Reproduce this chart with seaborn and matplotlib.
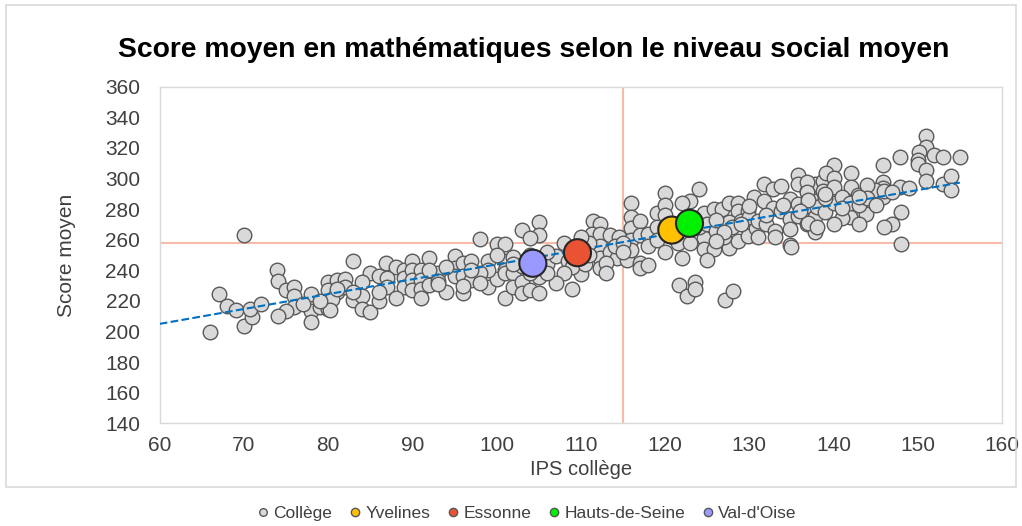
import pandas as pd
import seaborn as sns
import matplotlib.pyplot as plt
from matplotlib.lines import Line2D
from matplotlib.patches import Rectangle

# Collèges (IPS, score moyen)
college_x = [70, 67, 66, 68, 69, 70, 71, 70.7, 72, 73.9, 74, 75, 76, 76, 76, 75, 74, 78, 78, 78, 79, 80, 80, 80, 81, 80.5,
             82.9, 86.9, 88, 85, 86, 84, 81, 82, 82, 81, 80.2, 83, 84, 84, 85, 86, 87, 87, 89, 89, 89, 90, 90, 90, 90,
             91, 91, 91, 92, 92, 94, 95, 95, 95, 96, 96, 96, 97, 97, 98, 99, 99, 100, 100, 101, 101, 101,
             101, 101, 103, 105, 105, 104, 102, 102, 102, 103, 103, 104, 105, 105, 106, 107, 109, 110, 111.5, 112.3,
             111.3, 112.3, 113.5, 112.3, 112.3, 112.3, 113.5, 114.3, 114.5, 115.5, 116, 116, 116, 116, 116, 117, 117,
             117, 117, 118, 118, 118, 119, 119, 119, 120, 120, 120,
             120, 120, 124, 123, 122, 124.6, 125.8, 126.8, 124.6, 124.6, 125.8, 127.6, 128.6, 128.6, 127.6, 127.6,
             128.6, 129.8, 129.8, 129.8, 130.8, 130.6, 131.7, 131.7, 132.8, 132.8, 133.8, 133.8, 134.8, 134.8, 134.8,
             134.8, 135.8, 135.8, 135.8, 135.8, 136.8, 136.8, 136.8, 137.8, 137.8, 137.8, 137.8, 138.8, 138.8, 121.6,
             122.6, 123.6, 123.6, 127.1, 128.1,
             151, 151, 150.1, 151.9, 153, 155, 147.9, 150, 150, 151, 151, 145.9, 140.1, 139.1, 140.1, 140.1, 142.1,
             142.1, 136.9, 136.9, 145.9, 145.9, 145.9, 147.9, 149, 144.9, 142.9, 144.1, 142.9, 142, 141, 143.9, 138,
             137, 137, 153, 154, 154, 148, 147, 146, 148, 135,
             108, 108.5, 109, 110.5, 111, 110, 111, 113, 113, 114, 115, 115, 108, 107,
             103, 104, 104, 106, 106, 102, 100, 99, 98, 97, 93, 93, 94, 92,
             121, 121.5, 122, 123, 124, 125, 126, 127, 128, 129, 130, 131, 132, 133, 133, 131, 126, 125,
             138, 139, 140, 141, 142, 143, 144, 144, 146, 147, 140, 139, 143,
             88, 91, 93, 86, 83, 79, 77, 96, 98, 132, 134, 136, 130, 129, 141, 143, 145, 139, 127, 126]
college_y = [263, 224.5, 199.5, 216.7, 214, 203.6, 209.7, 215, 218, 240.2, 233, 227, 229.3, 223, 215.8, 213.6, 210,
             224.5, 213.6, 206.4, 216.2, 232.5, 227, 214.5, 226, 221,
             246.3, 244.6, 242.4, 238.4, 236.3, 232.5, 233.6, 234, 229, 227.5, 214, 220.6, 223.5, 214.5, 213, 220,
             235, 229, 240, 235, 229, 246, 240.5, 233.5, 227, 240, 233.5, 228, 248, 230.5, 226, 249.4, 241.5, 236.5,
             244.6, 236.5, 225, 246.3, 233.5, 260.3, 246.3, 229, 257, 234.6, 257, 246.3, 240.5,
             238.5, 222, 266.4, 271.8, 263, 261, 249, 238, 229, 232.5, 225, 227, 225, 235.5, 244, 249.6, 228, 237.5,
             272.5, 270, 264, 264, 263, 255.6, 248, 241.5, 252, 248, 262, 246.5, 283.8, 275, 267.4, 260, 253.4, 272,
             263, 244.6, 241.3, 264, 255.6, 243.5, 277.3, 268.6, 260, 290.4, 283, 252.2,
             276, 268.6, 293, 285.2, 284, 277.6, 279.8, 279.8, 261.2, 253.6, 253.6, 284, 284, 278.5, 271.5, 254.5,
             259.4, 278.5, 267.6, 262.2, 267.6, 287.7, 296.4, 285.5, 293, 281, 295, 278.5, 286.6, 273.5, 267, 256.6,
             302, 296.4, 283.3, 275.7, 292, 282, 270, 296.4, 285.5, 274.6, 264.8, 298.5, 292, 230.3, 223.4, 232.2,
             228, 220.3, 226.8,
             327.8, 320.9, 317, 315.5, 314, 314, 313.8, 312, 309.4, 305.5, 298.5, 308.8, 308.8, 303.3, 300, 294.6,
             303.3, 294.3, 297.8, 291.3, 297.8, 293.6, 288.1, 294.6, 294, 292.4, 289.2, 282.7, 279.4, 275, 274, 276.8,
             281.6, 286, 270.8, 296.4, 301.6, 292.4, 278, 270.5, 268, 257.1, 255,
             258, 246, 242, 244, 258, 262, 250, 245, 238, 256, 258, 252, 238, 232,
             243, 238, 250, 238, 252, 244, 250, 240, 238, 240, 238, 233, 242, 240,
             262, 258, 248, 258, 268, 270, 266, 262, 268, 272, 275, 272, 270, 266, 262, 262, 273, 247,
             268, 278, 284, 288, 284, 283, 296, 287, 292, 291, 270, 287, 270,
             222, 222, 231, 226, 226, 220, 218, 230, 232, 276, 283, 279, 282, 270, 281, 288, 283, 290, 265, 259]

# Departments
dep_names = ["Yvelines", "Essonne", "Hauts-de-Seine", "Val-d'Oise"]
dep_x = [120.8, 109.6, 122.9, 104.3]
dep_y = [266.3, 251.5, 270.7, 244.6]
dep_colors = ["#FFC000", "#EA5234", "#00F000", "#9999FF"]

# trend line and reference lines
trend_x = [60, 155]
trend_y = [205, 297.3]
ref_ips = 115
ref_score = 258

sns.set_theme(style="white")
plt.rcParams['font.family'] = ['Liberation Sans', 'DejaVu Sans']

fig = plt.figure(figsize=(10.22, 5.26), dpi=100)
ax = fig.add_axes([0.1563, 0.1952, 0.8241, 0.64])

df_col = pd.DataFrame({'IPS': college_x, 'Score': college_y})
df_dep = pd.DataFrame({'IPS': dep_x, 'Score': dep_y, 'Dep': dep_names})

ax.axvline(ref_ips, color='#F8BBAA', lw=1.5, zorder=1)
ax.axhline(ref_score, color='#F8BBAA', lw=1.5, zorder=1)

sns.scatterplot(data=df_col, x='IPS', y='Score', color='#D9D9D9', edgecolor='#595959',
                linewidth=1.0, s=110, ax=ax, zorder=2, legend=False)
sns.lineplot(x=trend_x, y=trend_y, color='#0070C0', lw=1.5, linestyle='--', ax=ax, zorder=3)
sns.scatterplot(data=df_dep, x='IPS', y='Score', hue='Dep', palette=dict(zip(dep_names, dep_colors)),
                edgecolor='#262626', linewidth=1.5, s=380, ax=ax, zorder=4, legend=False)

ax.set_xlim(60, 160)
ax.set_ylim(140, 360)
ax.set_xticks(range(60, 161, 10))
ax.set_yticks(range(140, 361, 20))
ax.tick_params(labelsize=15, colors='#404040', length=0)
ax.tick_params(axis='x', pad=9)
ax.tick_params(axis='y', pad=14)
ax.set_xlabel('IPS collège', fontsize=14.5, color='#404040', labelpad=4)
ax.set_ylabel('Score moyen', fontsize=15, color='#404040', labelpad=21)
for s in ax.spines.values():
    s.set_color('#D9D9D9')
    s.set_linewidth(1)

fig.text(0.522, 0.905, 'Score moyen en mathématiques selon le niveau social moyen',
         ha='center', va='center', fontsize=20.3, fontweight='bold', color='black')

# outer chart border
fig.patches.append(Rectangle((0.006, 0.074), 0.988, 0.916, transform=fig.transFigure,
                             fill=False, edgecolor='#D9D9D9', lw=1.2))

handles = [Line2D([0], [0], marker='o', ls='', markerfacecolor='#D9D9D9', markeredgecolor='#595959',
                  markersize=5.5, label='Collège')]
for n, c in zip(dep_names, dep_colors):
    handles.append(Line2D([0], [0], marker='o', ls='', markerfacecolor=c, markeredgecolor='#595959',
                          markersize=6, label=n))
fig.legend(handles=handles, loc='center', bbox_to_anchor=(0.515, 0.024), ncol=5, frameon=False,
           fontsize=12.5, handlelength=0.8, handletextpad=0.2, columnspacing=0.9, labelcolor='#404040')

fig.savefig('out.png', dpi=100)
